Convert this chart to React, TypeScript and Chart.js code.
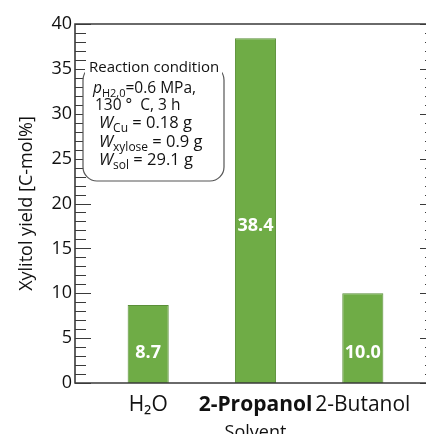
import React, { useEffect, useRef } from "react";
import { Chart, registerables } from "chart.js";

Chart.register(...registerables);

// ---- data ----
const categories = ["H₂O", "2-Propanol", "2-Butanol"];
const positions = [1, 2, 3];
const yields = [8.7, 38.4, 10.0];
const valueLabels = ["8.7", "38.4", "10.0"];
const yTickValues = [0, 5, 10, 15, 20, 25, 30, 35, 40];
const xTitle = "Solvent";
const yTitle = "Xylitol yield [C-mol%]";
const noteTitle = "Reaction condition";
type Seg = { t: string; italic?: boolean; sub?: boolean };
const noteLines: Seg[][] = [
  [{ t: "p", italic: true }, { t: "H2,0", sub: true }, { t: "=0.6 MPa," }],
  [{ t: "130 °  C, 3 h" }],
  [{ t: "W", italic: true }, { t: "Cu", sub: true }, { t: " = 0.18 g" }],
  [{ t: "W", italic: true }, { t: "xylose", sub: true }, { t: " = 0.9 g" }],
  [{ t: "W", italic: true }, { t: "sol", sub: true }, { t: " = 29.1 g" }],
];

const FAMILY = "'Open Sans', 'Noto Sans', sans-serif";
const CANVAS_W = 440;
const CANVAS_H = 450;

const framePlugin = {
  id: "frameTicks",
  afterDatasetsDraw(chart: any) {
    const { ctx } = chart;
    ctx.save();
    const meta = chart.getDatasetMeta(0);
    ctx.fillStyle = "#ffffff";
    ctx.font = `bold 18px ${FAMILY}`;
    ctx.textAlign = "center";
    ctx.textBaseline = "middle";
    meta.data.forEach((bar: any, i: number) => {
      const h = bar.base - bar.y;
      const cy = h > 150 ? bar.base - 0.455 * h : bar.base - 30;
      ctx.fillText(valueLabels[i], bar.x, cy);
    });
    ctx.restore();
  },
  afterDraw(chart: any) {
    const { ctx, chartArea, scales } = chart;
    const { left, right, top, bottom } = chartArea;
    const y = scales.y;
    ctx.save();
    ctx.strokeStyle = "#3a3a3a";
    ctx.lineWidth = 1.6;
    ctx.beginPath();
    ctx.moveTo(left, top);
    ctx.lineTo(right, top);
    ctx.lineTo(right, bottom);
    ctx.lineTo(left, bottom);
    ctx.closePath();
    ctx.stroke();
    ctx.lineWidth = 1.2;
    ctx.beginPath();
    for (let v = y.min; v <= y.max; v += 1) {
      const py = Math.round(y.getPixelForValue(v)) + 0.5;
      const len = v % 5 === 0 ? 16 : 11;
      ctx.moveTo(left, py);
      ctx.lineTo(left + len, py);
      ctx.moveTo(right, py);
      ctx.lineTo(right - len, py);
    }
    ctx.stroke();

    // annotation box
    const bx = left + 8;
    const bw = 141;
    const by = top + 42;
    const bh = 115;
    const r = 14;
    ctx.lineWidth = 1.2;
    ctx.strokeStyle = "#555";
    ctx.fillStyle = "#ffffff";
    ctx.beginPath();
    ctx.roundRect(bx, by, bw, bh, r);
    ctx.fill();
    ctx.stroke();
    ctx.fillRect(bx + 2, by - 2, bw - 4, 11);

    ctx.fillStyle = "#111";
    ctx.textAlign = "left";
    ctx.textBaseline = "alphabetic";
    ctx.font = `15px ${FAMILY}`;
    ctx.fillText(noteTitle, left + 14, top + 48);
    const starts = [
      [18, 69, 15.5, 11],
      [20, 86, 15.5, 11],
      [24, 104, 16.5, 12],
      [24, 123, 16.5, 12],
      [24, 141, 16.5, 12],
    ];
    noteLines.forEach((segs, i) => {
      let cx = left + starts[i][0];
      const base = top + starts[i][1];
      segs.forEach((s) => {
        const size = s.sub ? starts[i][3] : starts[i][2];
        ctx.font = `${s.italic ? "italic " : ""}${size}px ${FAMILY}`;
        ctx.fillText(s.t, cx, base + (s.sub ? 4 : 0));
        cx += ctx.measureText(s.t).width;
      });
    });
    ctx.restore();
  },
};

export default function App() {
  const ref = useRef<HTMLCanvasElement | null>(null);
  useEffect(() => {
    if (!ref.current) return;
    const chart = new Chart(ref.current, {
      type: "bar",
      data: {
        datasets: [
          {
            data: positions.map((x, i) => ({ x, y: yields[i] })),
            backgroundColor: "#6FAC46",
            borderColor: "#5A8F38",
            borderWidth: 1,
            categoryPercentage: 1,
            barPercentage: 0.383,
          },
        ],
      },
      options: {
        animation: false,
        responsive: false,
        devicePixelRatio: 1,
        layout: { padding: { top: 24, right: 4, left: 0, bottom: 0 } },
        plugins: { legend: { display: false }, tooltip: { enabled: false } },
        scales: {
          x: {
            type: "linear",
            offset: false,
            min: 0.318,
            max: 3.682,
            afterBuildTicks: (s: any) => {
              s.ticks = positions.map((v) => ({ value: v }));
            },
            afterFit: (s: any) => {
              s.height = CANVAS_H - 383;
            },
            grid: { display: false, drawTicks: false },
            border: { display: false },
            ticks: {
              padding: 9,
              autoSkip: false,
              maxRotation: 0,
              color: "#111",
              callback: (_v: any, i: number) => categories[i] ?? "",
              font: (c: any) => ({
                family: FAMILY,
                size: 21,
                weight: c.index === 1 ? "bold" : "normal",
              }),
            },
            title: {
              display: true,
              text: xTitle,
              color: "#111",
              font: { family: FAMILY, size: 18 },
              padding: { top: 0, bottom: 6 },
            },
          },
          y: {
            min: 0,
            max: 40,
            afterBuildTicks: (s: any) => {
              s.ticks = yTickValues.map((v) => ({ value: v }));
            },
            afterFit: (s: any) => {
              s.width = 75;
            },
            grid: { display: false, drawTicks: false },
            border: { display: false },
            ticks: {
              padding: 3,
              color: "#111",
              font: { family: FAMILY, size: 18 },
            },
            title: {
              display: true,
              text: yTitle,
              color: "#111",
              font: { family: FAMILY, size: 18 },
              padding: { top: 16, bottom: 0 },
            },
          },
        },
      } as any,
      plugins: [framePlugin],
    });
    return () => chart.destroy();
  }, []);
  return (
    <div
      style={{
        position: "fixed",
        left: 0,
        top: 0,
        width: 426,
        height: 434,
        overflow: "hidden",
        background: "#fff",
      }}
    >
      <canvas
        ref={ref}
        width={CANVAS_W}
        height={CANVAS_H}
        style={{ width: CANVAS_W, height: CANVAS_H, display: "block" }}
      />
    </div>
  );
}
